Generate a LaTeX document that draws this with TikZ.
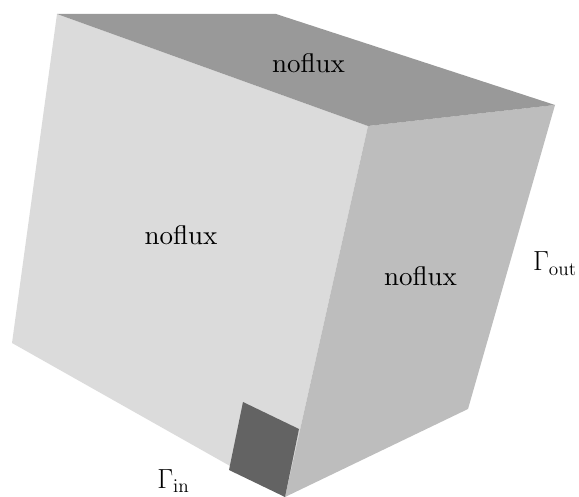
\documentclass[tikz,border=0pt]{standalone}
\usepackage{amsmath}
\usepackage{tikz}
\usetikzlibrary{calc}
\definecolor{faceleft}{gray}{0.86}
\definecolor{faceright}{gray}{0.74}
\definecolor{facetop}{gray}{0.6}
\definecolor{facein}{gray}{0.39}
\tikzset{
    facelabel/.style={scale=2.7,anchor=base},
    gammalabel/.style={font=\LARGE,scale=1.6,anchor=base}
}

\begin{document}
\begin{tikzpicture}[x=1pt,y=-1pt]

\useasboundingbox (0,0) rectangle (579,497);

\coordinate (A) at (57,14);
\coordinate (B) at (276,14);
\coordinate (C) at (555,105);
\coordinate (D) at (368,126);
\coordinate (E) at (12,343);
\coordinate (F) at (285,497);
\coordinate (G) at (468,409);
\coordinate (H) at (243,402);
\coordinate (I) at (299,429);
\coordinate (J) at (229,470);

\fill[faceleft] (A)--(D)--(F)--(E)--cycle;
\fill[faceright] (D)--(C)--(G)--(F)--cycle;
\fill[facetop] (A)--(B)--(C)--(D)--cycle;
\fill[facein] (H)--(I)--(F)--(J)--cycle;

\node[facelabel] (topface) at (308.5,73) {noflux};
\node[facelabel] (leftface) at (181,245) {noflux};
\node[facelabel] (rightface) at (420.5,286) {noflux};
\node[gammalabel] (gammaout) at (555,271) {$\Gamma_{\mathrm{out}}$};
\node[gammalabel] (gammain) at (173.5,488) {$\Gamma_{\mathrm{in}}$};

\end{tikzpicture}
\end{document}
